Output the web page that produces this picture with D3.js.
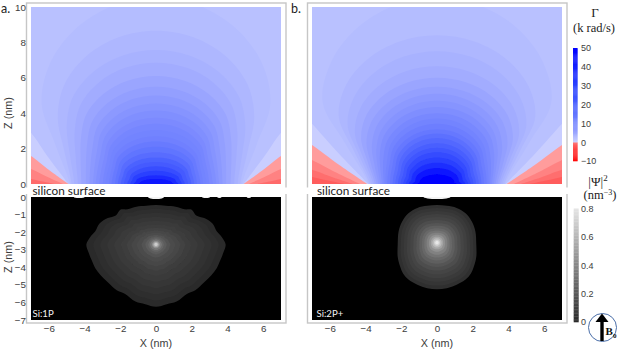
<!DOCTYPE html>
<html><head><meta charset="utf-8">
<script src="https://cdn.jsdelivr.net/npm/d3@7/dist/d3.min.js"></script>
<style>
html,body{margin:0;padding:0;background:#fff;overflow:hidden}
text{font-family:"Liberation Sans",Arial,sans-serif;fill:#3c3c3c}
.ser{font-family:"Liberation Serif",serif;fill:#222}
.cal{font-family:"Lato",sans-serif;fill:#222}
</style></head><body>
<svg id="c" width="623" height="350"></svg>
<script>
// --- tick labels
const xTicks=[-6,-4,-2,0,2,4,6];
const zTopTicks=[0,2,4,6,8,10];
const zBottomTicks=[0,-1,-2,-3,-4,-5,-6,-7];
const gammaTicks=[50,40,30,20,10,0,-10];
const psiTicks=[0,0.2,0.4,0.6,0.8];
// --- panel a, rate contours (nm): top height, widest half-width, height of widest point, half-width on surface
const gammaA=[1.6,2.4,3.2,4,5,6,7,8,8.8,9.6,10.4,11,12,13.5,15,17,19.5,22,26,31,37,44];
const topA=[10.5,8.66,7.57,6.85,6.1,5.5,5.0,4.55,4.15,3.75,3.4,3.05,2.7,2.4,2.1,1.8,1.5,1.25,1.0,0.75,0.5,0.28];
const wideA=[6.4,5.5,5.0,4.55,4.2,3.85,3.55,3.3,3.1,2.9,2.75,2.6,2.45,2.3,2.15,2.0,1.85,1.7,1.5,1.35,1.15,0.9];
const midA=[4.5,3.8,3.3,3.0,2.6,2.3,2.1,1.9,1.7,1.5,1.3,1.15,1.0,0.9,0.75,0.6,0.45,0.35,0.25,0.18,0.1,0.05];
const baseA=[4.85,4.75,4.6,4.4,4.2,3.95,3.75,3.55,3.4,3.2,3.0,2.85,2.65,2.5,2.3,2.15,1.98,1.8,1.62,1.45,1.25,1.0];
// --- panel b
const gammaB=[1.6,2.4,3.2,4,5,6,7,8,9,10,11,12.5,14,16,18,20.5,23.5,27,31,36,43,50];
const topB=[10.5,8.4,7.5,6.65,6.0,5.5,5.1,4.7,4.35,4.0,3.7,3.4,3.1,2.85,2.6,2.3,2.05,1.8,1.5,1.2,0.9,0.55];
const wideB=[6.4,5.5,5.0,4.6,4.25,3.95,3.65,3.4,3.2,3.0,2.8,2.65,2.5,2.35,2.2,2.05,1.9,1.75,1.6,1.45,1.25,1.0];
const midB=[4.6,3.8,3.3,2.9,2.6,2.3,2.1,1.9,1.7,1.5,1.3,1.15,1.0,0.85,0.7,0.6,0.5,0.4,0.3,0.2,0.12,0.06];
const baseB=[3.85,3.8,3.7,3.6,3.5,3.4,3.3,3.2,3.1,3.0,2.9,2.8,2.65,2.5,2.35,2.2,2.05,1.9,1.75,1.6,1.4,1.15];
// --- negative-rate wedges: height on plot edge, half-width on surface
const wedgeEdgeA=[2.9,1.58,0.85,0.28], wedgeApexA=[4.9,4.9,5.2,5.7];
const wedgeEdgeB=[3.4,2.2,1.36,0.8,0.4], wedgeApexB=[3.85,3.9,4.3,4.7,5.2];
const wedgeColorA=["#c9ceff","#ff9c9c","#ff8282","#ff6a6a"];
const wedgeColorB=["#c9ceff","#ff9c9c","#ff8282","#ff6e6e","#ff5c5c"];
// --- wavefunction outlines (left half, top to bottom, nm)
const outlineXA=[0,-0.55,-1.1,-1.6,-2.0,-2.25,-2.7,-3.15,-3.4,-3.7,-3.9,-3.78,-3.6,-3.4,-3.1,-2.7,-2.2,-1.75,-1.15,-0.6,0];
const outlineZA=[-0.45,-0.5,-0.55,-0.7,-0.72,-1.05,-1.2,-1.5,-1.95,-2.3,-2.7,-3.15,-3.6,-4.05,-4.45,-4.85,-5.3,-5.5,-5.95,-6.1,-6.25];
const peakZA=-2.7;
const factorA=[1,0.9,0.8,0.7,0.6,0.5,0.42,0.35,0.28,0.22,0.17,0.13,0.1,0.07,0.05,0.03];
const psiA=[0.1,0.115,0.13,0.145,0.16,0.175,0.19,0.205,0.225,0.25,0.28,0.32,0.38,0.47,0.58,0.7];
const outlineXB=[0,-0.55,-1.1,-1.6,-1.95,-2.15,-2.2,-2.2,-2.06,-1.9,-1.6,-1.1,-0.55,0];
const outlineZB=[-0.45,-0.5,-0.62,-0.93,-1.4,-1.97,-2.7,-3.4,-3.97,-4.35,-4.7,-5.0,-5.2,-5.25];
const peakZB=-2.6;
const factorB=[1,0.92,0.84,0.76,0.68,0.6,0.52,0.45,0.38,0.32,0.26,0.2,0.15,0.11,0.07,0.04];
const psiB=[0.12,0.14,0.16,0.18,0.2,0.23,0.26,0.29,0.33,0.37,0.42,0.48,0.55,0.63,0.72,0.8];
// --- white specks along the top of the dark panels: centre, half-width (nm)
const speckXA=[0.0,2.8,3.55,5.2,-4.3], speckWA=[0.45,0.22,0.12,0.12,0.3];
const speckXB=[0.0], speckWB=[0.75];

const svg=d3.select("#c");
const defs=svg.append("defs");
defs.append("filter").attr("id","soft").attr("x","-5%").attr("y","-5%").attr("width","110%").attr("height","110%")
  .append("feGaussianBlur").attr("stdDeviation",0.7);

const gammaColor=d3.scaleLinear()
  .domain([-10,-0.01,0,1,5,10,20,30,50])
  .range(["#ff0000","#ff5050","#c9ceff","#b9c1ff","#9aa5ff","#7888ff","#4a60ff","#2b42ff","#0000ff"]);
const psiColor=d3.scaleLinear().domain([0,0.1,0.8]).range(["#222222","#2a2a2a","#e8e8e8"]);

const topY=d3.scaleLinear().domain([0,10]).range([184,7]);
const botY=d3.scaleLinear().domain([0,-7]).range([197,320]);
const contourLine=d3.line().curve(d3.curveCatmullRom.alpha(0.5));
const wedgeLine=d3.line().curve(d3.curveCatmullRom.alpha(0.5));

function panel(cfg){
  const x=d3.scaleLinear().domain([-7,7]).range([cfg.x0,cfg.x0+250]);
  const id=cfg.id;
  svg.append("rect").attr("x",cfg.x0-4.5).attr("y",3).attr("width",259.5).attr("height",320)
    .attr("fill","#fff").attr("stroke","#c6c6c6").attr("stroke-width",1.4);
  defs.append("clipPath").attr("id","t"+id).append("rect")
    .attr("x",cfg.x0).attr("y",topY(10)).attr("width",250).attr("height",topY(0)-topY(10));
  defs.append("clipPath").attr("id","b"+id).append("rect")
    .attr("x",cfg.x0).attr("y",botY(0)).attr("width",250).attr("height",botY(-7)-botY(0));
  // --- upper map
  const gt=svg.append("g").attr("clip-path",`url(#t${id})`).append("g").attr("filter","url(#soft)");
  gt.append("rect").attr("x",cfg.x0-5).attr("y",0).attr("width",260).attr("height",190).attr("fill",gammaColor(1));
  [-1,1].forEach(s=>{
    cfg.wedgeEdge.forEach((e,i)=>{
      const a=cfg.wedgeApex[i];
      const pts=[[x(s*a),topY(0)],[x(s*(a+7)/2),topY(e*0.48)],[x(s*7),topY(e)],[x(s*7.4),topY(e*1.12)]];
      gt.append("path").attr("d",wedgeLine(pts)+`L${x(s*7.4)},${topY(-0.5)}L${x(s*a)},${topY(-0.5)}Z`)
        .attr("fill",cfg.wedgeColor[i]);
    });
  });
  cfg.gamma.forEach((g,i)=>{
    const w=cfg.wide[i],m=cfg.mid[i],t=cfg.top[i],b=cfg.base[i];
    const half=[[b,-0.3],[b*0.995,0],[(b+w)/2+0.02,m*0.5],[w,m],[w*0.93,m+(t-m)*0.38],[w*0.707,m+(t-m)*0.707],[w*0.38,m+(t-m)*0.925]];
    const pts=half.map(p=>[x(-p[0]),topY(p[1])]).concat([[x(0),topY(t)]])
      .concat(half.slice().reverse().map(p=>[x(p[0]),topY(p[1])]));
    gt.append("path").attr("d",contourLine(pts)+"Z").attr("fill",gammaColor(g));
  });
  // --- lower map
  const gb=svg.append("g").attr("clip-path",`url(#b${id})`);
  gb.append("rect").attr("x",cfg.x0-5).attr("y",190).attr("width",260).attr("height",135).attr("fill","#000");
  const gbs=gb.append("g");
  cfg.factor.forEach((f,i)=>{
    const weight=Math.min(1,f*3.3), r0=f*cfg.roundR;
    const L=cfg.outX.map((v,k)=>{
      const dx=v*f, dz=(cfg.outZ[k]-cfg.peak)*f, rho=Math.hypot(dx,dz)||1;
      const m=weight+(1-weight)*r0/rho;
      return [dx*m,cfg.peak+dz*m];
    });
    const R=L.slice(1,-1).reverse().map(p=>[-p[0],p[1]]);
    const pts=L.concat(R).map(p=>[x(p[0]),botY(p[1])]);
    gbs.append("path").attr("d",d3.line().curve(d3.curveCatmullRomClosed.alpha(0.5))(pts))
      .attr("fill",psiColor(cfg.psi[i])).attr("filter",f<0.6?"url(#soft)":null);
  });
  cfg.speckX.forEach((c,i)=>{
    gb.append("ellipse").attr("cx",x(c)).attr("cy",botY(0)).attr("rx",x(cfg.speckW[i])-x(0))
      .attr("ry",i===0?2:1).attr("fill","#f4f4f4");
  });
  // --- surface strip
  svg.append("rect").attr("x",cfg.x0-6).attr("y",187.5).attr("width",262).attr("height",6.5).attr("fill","#fff");
  svg.append("rect").attr("x",cfg.x0).attr("y",184).attr("width",250).attr("height",13).attr("fill","#fff");
  svg.append("text").attr("class","cal").attr("x",cfg.x0+1.5+(cfg.surfDx||0)).attr("y",195).attr("font-size",10.6)
    .attr("textLength",73).attr("lengthAdjust","spacingAndGlyphs").text("silicon surface");
  svg.append("text").attr("x",cfg.x0+1.5+(cfg.labDx||0)).attr("y",317).attr("font-size",9.6)
    .style("font-family","Lato,sans-serif").style("fill","#f2f2f2").text(cfg.label);
  // --- axes
  const ax=svg.append("g").attr("transform","translate(0,320)")
    .call(d3.axisBottom(x).tickValues(xTicks).tickSize(0).tickPadding(5).tickFormat(d3.format("d")));
  ax.select(".domain").remove();
  ax.selectAll("text").attr("font-size",9.8).style("font-family",'"Liberation Sans"').style("fill","#3c3c3c");
  svg.append("text").attr("x",x(0)).attr("y",347).attr("text-anchor","middle").attr("font-size",10.8).text("X (nm)");
  return x;
}

panel({id:"a",x0:31,gamma:gammaA,top:topA,wide:wideA,mid:midA,base:baseA,
  wedgeEdge:wedgeEdgeA,wedgeApex:wedgeApexA,wedgeColor:wedgeColorA,roundR:3.0,
  outX:outlineXA,outZ:outlineZA,peak:peakZA,factor:factorA,psi:psiA,speckX:speckXA,speckW:speckWA,label:"Si:1P"});
panel({id:"b",x0:312,gamma:gammaB,top:topB,wide:wideB,mid:midB,base:baseB,
  wedgeEdge:wedgeEdgeB,wedgeApex:wedgeApexB,wedgeColor:wedgeColorB,roundR:2.4,
  outX:outlineXB,outZ:outlineZB,peak:peakZB,factor:factorB,psi:psiB,speckX:speckXB,speckW:speckWB,label:"Si:2P+",surfDx:3.5,labDx:3});

function leftAxis(scale,ticks){
  const g=svg.append("g").attr("transform","translate(31,0)")
    .call(d3.axisLeft(scale).tickValues(ticks).tickSize(0).tickPadding(5).tickFormat(d3.format("d")));
  g.select(".domain").remove();
  g.selectAll("text").attr("font-size",9.8).style("font-family",'"Liberation Sans"').style("fill","#3c3c3c");
}
leftAxis(topY,zTopTicks);
leftAxis(botY,zBottomTicks);
svg.append("text").attr("transform","translate(12,113) rotate(-90)").attr("text-anchor","middle").attr("font-size",10.8).text("Z (nm)");
svg.append("text").attr("transform","translate(12,257) rotate(-90)").attr("text-anchor","middle").attr("font-size",10.8).text("Z (nm)");

svg.append("text").attr("x",1).attr("y",13).attr("font-size",12.5).style("fill","#222").style("font-family","Lato,sans-serif").text("a.");
svg.append("text").attr("x",291).attr("y",13).attr("font-size",12.5).style("fill","#222").style("font-family","Lato,sans-serif").text("b.");

// colour bars
const gammaBar=d3.scaleLinear().domain([-10,50]).range([161,48]);
d3.range(-10,50,0.5).forEach(v=>{
  svg.append("rect").attr("x",573).attr("width",4.6).attr("y",gammaBar(v+0.5)).attr("height",gammaBar(v)-gammaBar(v+0.5)+0.3)
    .attr("fill",v<0?d3.interpolateRgb("#ff0000","#ff7070")((v+10)/10):gammaColor(v));
});
const gAx1=svg.append("g").attr("transform","translate(577,0)")
  .call(d3.axisRight(gammaBar).tickValues(gammaTicks).tickSize(0).tickPadding(4).tickFormat(d3.format("d")));
gAx1.select(".domain").remove();
gAx1.selectAll("text").attr("font-size",9).style("font-family",'"Liberation Sans"').style("fill","#3c3c3c");

const psiBar=d3.scaleLinear().domain([0,0.8]).range([322,208.5]);
d3.range(0,0.8,0.01).forEach(v=>{
  svg.append("rect").attr("x",573.7).attr("width",5).attr("y",psiBar(v+0.01)).attr("height",psiBar(v)-psiBar(v+0.01)+0.3)
    .attr("fill",d3.interpolateRgb("#2a2a2a","#e6e6e6")(v/0.8));
});
const gAx2=svg.append("g").attr("transform","translate(577,0)")
  .call(d3.axisRight(psiBar).tickValues(psiTicks).tickSize(0).tickPadding(4).tickFormat(d=>d===0?"0":d3.format(".1f")(d)));
gAx2.select(".domain").remove();
gAx2.selectAll("text").attr("font-size",9).style("font-family",'"Liberation Sans"').style("fill","#3c3c3c");

svg.append("text").attr("class","ser").attr("x",595).attr("y",17).attr("text-anchor","middle").attr("font-size",13).text("Γ");
svg.append("text").attr("class","ser").attr("x",594).attr("y",32).attr("text-anchor","middle").attr("font-size",12.5).text("(k rad/s)");
const t1=svg.append("text").attr("class","ser").attr("x",598).attr("y",186).attr("text-anchor","middle").attr("font-size",13);
t1.append("tspan").text("|Ψ|");t1.append("tspan").attr("dy",-5).attr("font-size",9).text("2");
const t2=svg.append("text").attr("class","ser").attr("x",600).attr("y",199).attr("text-anchor","middle").attr("font-size",12.5);
t2.append("tspan").text("(nm");t2.append("tspan").attr("dy",-4).attr("font-size",8).text("−3");t2.append("tspan").attr("dy",4).text(")");

svg.append("circle").attr("cx",602.5).attr("cy",327.5).attr("r",14).attr("fill","#fff").attr("stroke","#4a6ea8").attr("stroke-width",1);
svg.append("line").attr("x1",602).attr("x2",602).attr("y1",341).attr("y2",320).attr("stroke","#000").attr("stroke-width",3.4);
svg.append("path").attr("d","M595.5,322L602,313.5L608.5,322Z").attr("fill","#000");
svg.append("text").attr("class","ser").attr("x",605.5).attr("y",335).attr("font-size",11).attr("font-weight","bold").style("fill","#111").text("B");
svg.append("text").attr("class","ser").attr("x",613).attr("y",338).attr("font-size",7).attr("font-weight","bold").style("fill","#111").text("0");
</script>
</body></html>
